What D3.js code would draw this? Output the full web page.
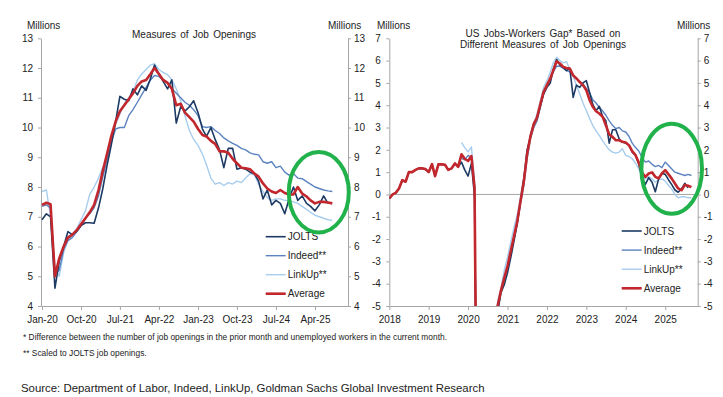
<!DOCTYPE html>
<html>
<head>
<meta charset="utf-8">
<script src="https://cdn.jsdelivr.net/npm/d3@7"></script>
<style>
  body { margin: 0; background: #fff; }
  svg text { font-family: "Liberation Sans", Arial, sans-serif; fill: #222; }
</style>
</head>
<body>
<div id="chart"></div>
<script>
// ---- data (millions) ----
// left panel: job openings, monthly from Jan-20
var openingsStart = "2020-01";
var openingsJolts = [6.9, 7.1, 7.0, 4.6, 5.5, 6.0, 6.5, 6.4, 6.5, 6.7, 6.8, 6.8,
  6.78, 7.3, 7.9, 8.7, 9.4, 10.2, 11.05, 10.95, 10.9, 11.3, 11.1, 11.4,
  11.25, 11.65, 12.1, 11.8, 11.55, 11.3, 11.6, 10.15, 10.7, 10.55, 10.7, 10.9,
  10.5, 9.95, 9.7, 10.0, 9.6, 9.25, 8.65, 9.3, 9.3, 8.6, 8.65, 8.6,
  8.5, 8.45, 8.2, 7.6, 7.9, 7.4, 7.55, 7.45, 7.1, 7.6, 8.0, 7.55,
  7.7, 7.45, 7.35, 7.2, 7.4, 7.7, 7.45];
var openingsIndeed = [7.35, 7.4, 7.3, 5.1, 5.2, 5.9, 6.2, 6.3, 6.5, 6.7, 6.95, 7.1,
  7.3, 7.7, 8.3, 8.9, 9.5, 9.95, 10.0, 10.0, 10.4, 10.6, 10.85, 11.1,
  11.35, 11.6, 11.75, 11.72, 11.6, 11.5, 11.3, 11.15, 11.0, 10.85, 10.75, 10.6,
  10.4, 10.03, 10.0, 10.03, 9.9, 9.8, 9.65, 9.55, 9.47, 9.4, 9.3, 9.25,
  9.15, 9.1, 9.08, 8.85, 8.8, 8.85, 8.65, 8.7, 8.5, 8.4, 8.45, 8.3,
  8.28, 8.18, 8.1, 8.0, 7.95, 7.9, 7.87, 7.85];
var openingsLinkup = [7.85, 7.9, 7.0, 5.3, 5.0, 5.8, 6.2, 6.4, 6.6, 6.9, 7.2, 7.75,
  8.0, 8.3, 8.65, 8.95, 9.55, 10.1, 10.45, 10.8, 11.0, 11.2, 11.6, 11.8,
  11.95, 12.1, 12.15, 11.95, 11.85, 11.78, 11.6, 11.3, 10.9, 10.4, 9.9, 9.6,
  9.4, 9.1, 8.75, 8.3, 8.1, 8.15, 8.05, 8.15, 8.1, 8.2, 8.15, 8.3,
  8.45, 8.4, 8.1, 7.85, 7.65, 7.55, 7.6, 7.6, 7.55, 7.55, 7.5, 7.45,
  7.35, 7.25, 7.15, 7.05, 7.0, 6.95, 6.9, 6.88];
var openingsAverage = [7.4, 7.47, 7.42, 5.0, 5.6, 6.0, 6.3, 6.4, 6.55, 6.75, 6.95, 7.15,
  7.4, 7.9, 8.5, 9.1, 9.7, 10.2, 10.55, 10.75, 10.95, 11.15, 11.4, 11.55,
  11.6, 11.8, 12.0, 11.8, 11.6, 11.5, 11.3, 10.75, 10.8, 10.5, 10.35, 10.2,
  9.95, 9.75, 9.7, 9.55, 9.45, 9.2, 9.2, 9.15, 8.95, 8.8, 8.65, 8.63,
  8.6, 8.45, 8.35, 8.12, 7.95, 7.85, 7.8, 7.9, 7.8, 7.75, 7.75, 8.0,
  7.78, 7.68, 7.55, 7.45, 7.5, 7.5, 7.48, 7.45];
var openingsTicks = ["Jan-20", "Oct-20", "Jul-21", "Apr-22", "Jan-23", "Oct-23", "Jul-24", "Apr-25"];

// right panel: jobs-workers gap, monthly; JOLTS/average from Jan-18, Indeed/LinkUp from Nov-19
var gapStart = "2018-01";
var gapPartialStart = "2019-11";
var gapJolts = [-0.18, 0.0, 0.07, 0.27, 0.64, 0.57, 1.0, 1.0, 1.1, 1.17, 1.17, 1.14,
  1.0, 1.36, 0.82, 1.35, 1.35, 1.33, 1.1, 1.17, 1.39, 1.24, 1.45, 1.1,
  0.82, 1.39, -0.1, -17.5, -16.5, -12.5, -10.5, -8.5, -6.8, -5.3, -4.4, -4.05,
  -3.5, -2.8, -2.1, -1.3, -0.3, 0.7, 2.0, 2.6, 3.2, 3.4, 4.0, 4.5,
  4.8, 5.0, 5.6, 6.05, 5.8, 5.7, 5.55, 5.65, 4.35, 4.9, 4.8, 5.0,
  5.1, 4.55, 4.05, 3.75, 3.95, 3.5, 3.3, 2.3, 2.9, 2.9, 2.5, 2.35,
  2.3, 2.2, 1.9, 1.75, 1.35, 0.75, 0.45, 0.75, 0.55, 0.12, 0.7, 0.95,
  0.9, 0.65, 0.45, 0.2, 0.1, 0.25, 0.5, 0.3];
var gapIndeed = [1.62, 1.55,
  1.75, 1.65, 0.4, -17, -16, -12, -10, -8, -6.5, -5.0, -4.3, -3.8,
  -3.2, -2.6, -2.0, -1.3, -0.4, 0.4, 1.6, 2.5, 3.0, 3.3, 3.9, 4.5,
  4.9, 5.2, 5.5, 5.75, 5.75, 5.65, 5.55, 5.5, 5.35, 5.2, 5.05, 4.95,
  4.75, 4.55, 4.25, 4.1, 3.9, 3.75, 3.55, 3.3, 3.1, 2.95, 3.0, 2.85,
  2.8, 2.6, 2.3, 2.1, 1.95, 1.65, 1.45, 1.5, 1.35, 1.25, 1.3, 1.2,
  1.45, 1.3, 1.15, 1.0, 0.95, 0.9, 0.85, 0.9, 0.85];
var gapLinkup = [2.33, 2.1,
  1.91, 2.13, 0.6, -16.5, -15.5, -11.5, -9.5, -7.5, -6.2, -4.8, -4.2, -3.4,
  -2.8, -2.1, -1.5, -0.9, -0.1, 0.8, 1.8, 2.7, 3.2, 3.6, 4.2, 4.8,
  5.1, 5.5, 5.9, 6.15, 6.0, 5.9, 5.95, 5.6, 5.3, 4.9, 4.5, 4.1,
  3.75, 3.4, 3.1, 2.85, 2.65, 2.4, 2.2, 2.0, 1.9, 1.85, 1.9, 2.05,
  1.75, 1.7, 1.6, 1.4, 1.15, 0.75, 0.7, 0.8, 0.7, 0.55, 0.65, 0.7,
  0.6, 0.4, 0.25, 0.0, -0.15, -0.1, -0.1, -0.15, -0.15];
var gapAverage = [-0.18, 0.0, 0.07, 0.27, 0.64, 0.57, 1.0, 1.0, 1.1, 1.17, 1.17, 1.14,
  1.0, 1.36, 0.82, 1.35, 1.35, 1.33, 1.1, 1.17, 1.39, 1.24, 1.8, 1.6,
  1.5, 1.72, 0.3, -17, -16, -12, -10, -8, -6.5, -5.0, -4.3, -3.75,
  -3.2, -2.5, -1.9, -1.2, -0.3, 0.6, 1.8, 2.6, 3.15, 3.45, 4.05, 4.6,
  4.9, 5.2, 5.57, 5.97, 5.87, 5.72, 5.67, 5.64, 5.34, 5.2, 5.04, 4.9,
  4.67, 4.22, 3.93, 3.73, 3.63, 3.48, 3.1, 2.69, 2.58, 2.43, 2.43, 2.36,
  2.33, 2.2, 1.94, 1.76, 1.43, 0.97, 0.79, 0.94, 0.99, 0.79, 0.72, 0.94,
  1.09, 0.9, 0.72, 0.49, 0.27, 0.19, 0.42, 0.39, 0.33];
var gapTicks = ["2018", "2019", "2020", "2021", "2022", "2023", "2024", "2025"];

var seriesNames = ["JOLTS", "Indeed**", "LinkUp**", "Average"];
var seriesColors = ["#1c3a63", "#5b83bf", "#a7cdee", "#c1272d"];
var seriesWidths = [1.6, 1.4, 1.4, 2.6];

var width = 723, height = 397;
var parseMonth = d3.timeParse("%Y-%m");

// turn a list of monthly values into {date, value} points
function monthly(start, values) {
  var d0 = parseMonth(start);
  return values.map(function(v, i) {
    return { date: d3.timeMonth.offset(d0, i), value: v };
  });
}

var svg = d3.select("#chart").append("svg")
  .attr("width", width)
  .attr("height", height);

svg.append("rect").attr("width", width).attr("height", height).attr("fill", "#fff");

// one chart panel
function panel(opts) {
  var x = d3.scaleTime().domain(opts.xDomain).range([opts.left, opts.right]);
  var y = d3.scaleLinear().domain(opts.yDomain).range([306, 38.3]);
  var g = svg.append("g");

  g.append("clipPath").attr("id", opts.id + "-clip")
    .append("rect")
    .attr("x", opts.left).attr("y", 38.3)
    .attr("width", opts.right - opts.left).attr("height", 306 - 38.3);

  if (opts.zeroLine) {
    g.append("line")
      .attr("x1", opts.left).attr("x2", opts.right)
      .attr("y1", y(0)).attr("y2", y(0))
      .attr("stroke", "#a6a6a6").attr("stroke-width", 1);
  }

  var ticks = d3.range(opts.yDomain[0], opts.yDomain[1] + 1);
  var fmt = function(d) { return String(d); };

  g.append("g").attr("transform", "translate(" + opts.left + ",0)")
    .call(d3.axisLeft(y).tickValues(ticks).tickFormat(fmt).tickSize(3).tickPadding(opts.padLeft).tickSizeOuter(0));
  g.append("g").attr("transform", "translate(" + opts.right + ",0)")
    .call(d3.axisRight(y).tickValues(ticks).tickFormat(fmt).tickSize(3).tickPadding(opts.padRight).tickSizeOuter(0));
  g.append("g").attr("transform", "translate(0,306)")
    .call(d3.axisBottom(x).tickValues(opts.xTicks.map(opts.parseTick)).tickFormat(opts.tickFormat)
      .tickSize(4).tickPadding(6).tickSizeOuter(0));

  g.selectAll(".domain, .tick line").attr("stroke", "#a6a6a6");
  g.selectAll(".tick text").attr("font-size", 10).attr("fill", "#222");

  var line = d3.line()
    .x(function(d) { return x(d.date); })
    .y(function(d) { return y(d.value); });

  var lines = g.append("g").attr("clip-path", "url(#" + opts.id + "-clip)");
  // draw light series first, average last
  [2, 1, 0, 3].forEach(function(i) {
    lines.append("path")
      .datum(opts.series[i])
      .attr("fill", "none")
      .attr("stroke", seriesColors[i])
      .attr("stroke-width", seriesWidths[i])
      .attr("stroke-linejoin", "round")
      .attr("d", line);
  });

  // legend
  var leg = g.append("g");
  seriesNames.forEach(function(name, i) {
    var ly = opts.legendY + i * opts.legendStep;
    leg.append("line")
      .attr("x1", opts.legendX).attr("x2", opts.legendX + 20)
      .attr("y1", ly).attr("y2", ly)
      .attr("stroke", seriesColors[i])
      .attr("stroke-width", seriesWidths[i]);
    leg.append("text")
      .attr("x", opts.legendX + 22).attr("y", ly + 3.5)
      .attr("font-size", 10)
      .text(name);
  });

  // unit labels
  g.append("text").attr("x", opts.millionsLeft).attr("y", 29).attr("font-size", 10).text("Millions");
  g.append("text").attr("x", opts.millionsRight).attr("y", 29).attr("font-size", 10).text("Millions");

  opts.title.forEach(function(t, i) {
    g.append("text")
      .attr("x", opts.titleX).attr("y", opts.titleY + i * 11.3)
      .attr("text-anchor", "middle")
      .attr("font-size", 10)
      .attr("word-spacing", 1.5)
      .text(t);
  });

  g.append("ellipse")
    .attr("cx", opts.ring[0]).attr("cy", opts.ring[1])
    .attr("rx", opts.ring[2]).attr("ry", opts.ring[3])
    .attr("fill", "none")
    .attr("stroke", "#22b24c")
    .attr("stroke-width", 4);
}

panel({
  id: "openings",
  left: 41, right: 348,
  xDomain: [new Date(2019, 11, 25), new Date(2025, 10, 19)],
  yDomain: [4, 13],
  xTicks: openingsTicks,
  parseTick: d3.timeParse("%b-%y"),
  tickFormat: d3.timeFormat("%b-%y"),
  padLeft: 5, padRight: 3,
  series: [
    monthly(openingsStart, openingsJolts),
    monthly(openingsStart, openingsIndeed),
    monthly(openingsStart, openingsLinkup),
    monthly(openingsStart, openingsAverage)
  ],
  legendX: 265.7, legendY: 236.7, legendStep: 19,
  millionsLeft: 27, millionsRight: 328,
  title: ["Measures of Job Openings"], titleX: 194, titleY: 37.5,
  ring: [318.8, 192.2, 30, 40.2]
});

panel({
  id: "gap",
  left: 389.3, right: 697.7,
  xDomain: [new Date(2018, 0, 1), new Date(2025, 9, 29)],
  yDomain: [-5, 7],
  xTicks: gapTicks,
  parseTick: d3.timeParse("%Y"),
  tickFormat: d3.timeFormat("%Y"),
  padLeft: 5.5, padRight: 3,
  zeroLine: true,
  series: [
    monthly(gapStart, gapJolts),
    monthly(gapPartialStart, gapIndeed),
    monthly(gapPartialStart, gapLinkup),
    monthly(gapStart, gapAverage)
  ],
  legendX: 621.7, legendY: 231, legendStep: 19.1,
  millionsLeft: 377, millionsRight: 677,
  title: ["US Jobs-Workers Gap* Based on", "Different Measures of Job Openings"], titleX: 543, titleY: 36.5,
  ring: [671.7, 168.7, 30.3, 45]
});

// notes
svg.append("text").attr("x", 23).attr("y", 339.5).attr("font-size", 8.4)
  .text("* Difference between the number of job openings in the prior month and unemployed workers in the current month.");
svg.append("text").attr("x", 23).attr("y", 356).attr("font-size", 8.4)
  .text("** Scaled to JOLTS job openings.");
svg.append("text").attr("x", 21).attr("y", 392).attr("font-size", 11.4)
  .text("Source: Department of Labor, Indeed, LinkUp, Goldman Sachs Global Investment Research");
</script>
</body>
</html>
